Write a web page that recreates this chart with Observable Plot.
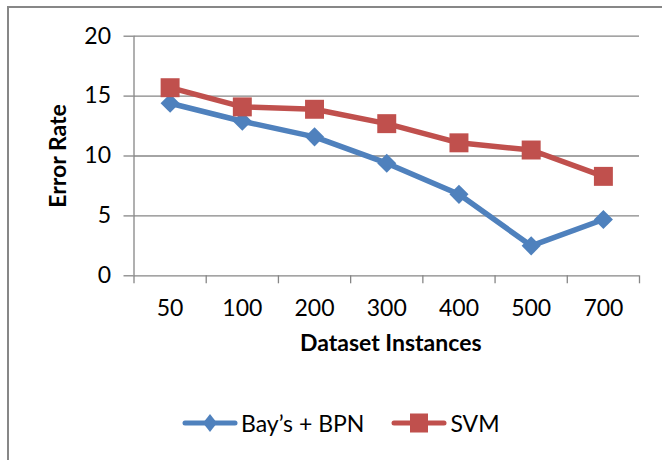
<!DOCTYPE html>
<html><head><meta charset="utf-8">
<script src="https://cdn.jsdelivr.net/npm/d3@7"></script>
<script src="https://cdn.jsdelivr.net/npm/@observablehq/plot@0.6"></script>
<style>
body{margin:0;background:#fff;overflow:hidden;font-family:Lato,"Open Sans",sans-serif;}
#wrap{position:relative;width:662px;height:460px;overflow:hidden;background:#fff;}
#frame{position:absolute;left:7px;top:6px;width:720px;height:520px;border:2px solid #878787;box-sizing:border-box;}
#chart{position:absolute;left:0;top:0;}
#legend{position:absolute;top:409px;left:182px;display:flex;align-items:center;font-size:23px;color:#000;white-space:nowrap;}
#legend .item{display:flex;align-items:center;}
#legend .item + .item{margin-left:27px;}
#legend svg{display:block;margin-right:3px;}
</style></head><body>
<div id="wrap"><div id="frame"></div><div id="chart"></div><div id="legend"></div></div>
<script>
const categories = ["50", "100", "200", "300", "400", "500", "700"];
const seriesNames = ["Bay’s + BPN", "SVM"];
const baysBpn = [14.4, 12.9, 11.6, 9.4, 6.8, 2.5, 4.7];
const svm = [15.7, 14.1, 13.9, 12.7, 11.1, 10.5, 8.3];
const yTicks = [0, 5, 10, 15, 20];
const xTitle = "Dataset Instances";
const yTitle = "Error Rate";
const colors = ["#4F81BD", "#C0504D"];
const symbols = ["diamond2", "square"];
const symbolR = [8.6, 10.7];

const seriesValues = [baysBpn, svm];
const rows = seriesNames.map((name, s) =>
  categories.map((c, i) => ({series: name, cat: c, idx: i + 0.5, value: seriesValues[s][i]}))
);

const W = 662, H = 390;
const seriesMarks = rows.flatMap((data, s) => [
  Plot.line(data, {x: "idx", y: "value", stroke: colors[s], strokeWidth: 5.5, strokeLinejoin: "round", strokeLinecap: "round"}),
  Plot.dot(data, {x: "idx", y: "value", fill: colors[s], stroke: "none", symbol: symbols[s], r: symbolR[s]})
]);

const chart = Plot.plot({
  width: W, height: H,
  marginLeft: 133.5, marginRight: 23, marginTop: 35.7, marginBottom: H - 275.3,
  style: {fontFamily: "Lato, 'Open Sans', sans-serif", fontSize: "23px", color: "#000", background: "transparent", overflow: "visible"},
  x: {domain: [0, categories.length]},
  y: {domain: [0, 20]},
  marks: [
    Plot.gridY(yTicks, {stroke: "#868686", strokeOpacity: 1, strokeWidth: 1.3}),
    Plot.axisY(yTicks, {tickSize: 10, tickPadding: 13, stroke: "#868686", strokeWidth: 1.3, label: null, fontSize: 23}),
    Plot.ruleX([0], {stroke: "#868686", strokeWidth: 1.3}),
    Plot.axisX(d3.range(categories.length + 1), {tickSize: 8, tickFormat: () => "", stroke: "#868686", strokeWidth: 1.3, label: null}),
    Plot.axisX(categories.map((c, i) => i + 0.5), {tickSize: 0, tickPadding: 24, tickFormat: (d) => categories[Math.floor(d)], label: null, fontSize: 23}),
    ...seriesMarks,
    Plot.text([xTitle], {frameAnchor: "bottom", lineAnchor: "middle", textAnchor: "middle", dy: 68, dx: 4, fontWeight: "bold", fontSize: 23, fill: "#000"}),
    Plot.text([yTitle], {frameAnchor: "left", lineAnchor: "middle", textAnchor: "middle", dx: -75.5, rotate: -90, fontWeight: "bold", fontSize: 23, fill: "#000"})
  ]
});
document.getElementById("chart").appendChild(chart);

// legend
const legend = d3.select("#legend");
seriesNames.forEach((name, s) => {
  const item = legend.append("div").attr("class", "item");
  const svg = item.append("svg").attr("width", 56).attr("height", 24);
  svg.append("line").attr("x1", 3).attr("x2", 53).attr("y1", 12).attr("y2", 12)
    .attr("stroke", colors[s]).attr("stroke-width", 5).attr("stroke-linecap", "round");
  if (symbols[s] === "diamond2") {
    svg.append("polygon").attr("points", "28,3 35,12 28,21 21,12").attr("fill", colors[s]);
  } else {
    svg.append("rect").attr("x", 19).attr("y", 2.5).attr("width", 18).attr("height", 19).attr("fill", colors[s]);
  }
  item.append("span").text(name);
});
</script>
</body></html>
